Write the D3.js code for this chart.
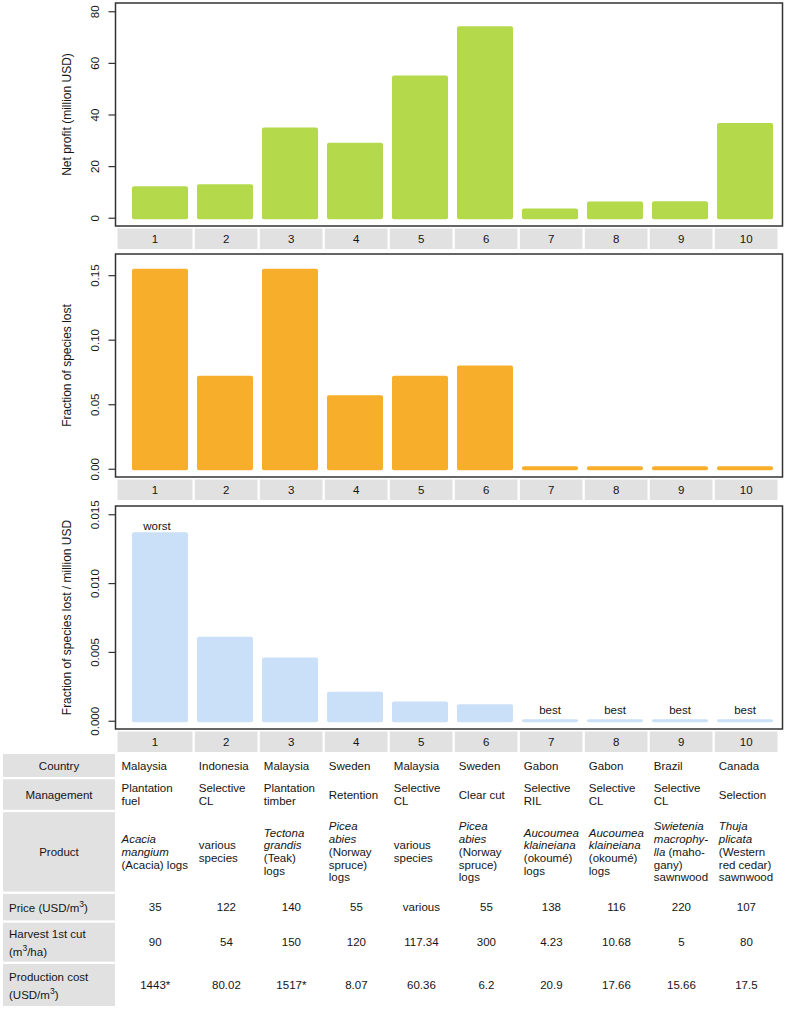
<!DOCTYPE html>
<html>
<head>
<meta charset="utf-8">
<script src="https://cdn.jsdelivr.net/npm/d3@7"></script>
<style>
  body { margin: 0; background: #fff; }
  text { font-family: "Liberation Sans", Arial, Helvetica, sans-serif; fill: #151515; }
</style>
</head>
<body>
<div id="chart"></div>
<script>

// Data.
const caseIds = [1, 2, 3, 4, 5, 6, 7, 8, 9, 10];
const netProfit = [12.2, 13.0, 35.0, 29.1, 55.1, 74.2, 3.6, 6.3, 6.4, 36.7];
const speciesLost = [0.155, 0.072, 0.155, 0.057, 0.072, 0.080, 0.002, 0.002, 0.002, 0.002];
const lostPerProfit = [0.0137, 0.0061, 0.0046, 0.0021, 0.0014, 0.0012, 0.0001, 0.0001, 0.0001, 0.0001];
const rankLabels = ["worst", "", "", "", "", "", "best", "best", "best", "best"];

const countries = ["Malaysia", "Indonesia", "Malaysia", "Sweden", "Malaysia", "Sweden", "Gabon", "Gabon", "Brazil", "Canada"];
const management = [["Plantation", "fuel"], ["Selective", "CL"], ["Plantation", "timber"], ["Retention"], ["Selective", "CL"],
                    ["Clear cut"], ["Selective", "RIL"], ["Selective", "CL"], ["Selective", "CL"], ["Selection"]];
// *...* marks italic text
const products = [
  ["*Acacia*", "*mangium*", "(Acacia) logs"],
  ["various", "species"],
  ["*Tectona*", "*grandis*", "(Teak)", "logs"],
  ["*Picea*", "*abies*", "(Norway", "spruce)", "logs"],
  ["various", "species"],
  ["*Picea*", "*abies*", "(Norway", "spruce)", "logs"],
  ["*Aucoumea*", "*klaineiana*", "(okoumé)", "logs"],
  ["*Aucoumea*", "*klaineiana*", "(okoumé)", "logs"],
  ["*Swietenia*", "*macrophy-*", "*lla* (maho-", "gany)", "sawnwood"],
  ["*Thuja*", "*plicata*", "(Western", "red cedar)", "sawnwood"]
];
const prices = ["35", "122", "140", "55", "various", "55", "138", "116", "220", "107"];
const harvest = ["90", "54", "150", "120", "117.34", "300", "4.23", "10.68", "5", "80"];
const prodCost = ["1443*", "80.02", "1517*", "8.07", "60.36", "6.2", "20.9", "17.66", "15.66", "17.5"];

// ^3 marks a superscript 3
const rowHeaders = [["Country"], ["Management"], ["Product"], ["Price (USD/m^3)"], ["Harvest 1st cut", "(m^3/ha)"], ["Production cost", "(USD/m^3)"]];

// Layout.
const WIDTH = 787, HEIGHT = 1010;
const BOX = {left: 115.5, right: 782.5, height: 223};
const PANEL_TOPS = [3, 254, 506];
const GREY = "#e1e1e1";
const FONT = 11.5;

const svg = d3.select("#chart").append("svg")
    .attr("width", WIDTH)
    .attr("height", HEIGHT);

const x = d3.scaleBand()
    .domain(caseIds)
    .range([127.5, 777.5])
    .paddingInner(0.138)
    .paddingOuter(0.069);

const halfGap = (x.step() - x.bandwidth()) / 2;
function cellLeft(i) { return i === 0 ? 117.5 : x(caseIds[i]) - halfGap + 2.3; }
function cellRight(i) { return x(caseIds[i]) + x.bandwidth() + halfGap; }

const panels = [
  {values: speciesLost, ylim: [0, 0.16], ticks: [0, 0.05, 0.1, 0.15], fmt: d3.format(".2f"), color: "#f7ae2b", title: "Fraction of species lost"},
  {values: lostPerProfit, ylim: [0, 0.015], ticks: [0, 0.005, 0.01, 0.015], fmt: d3.format(".3f"), color: "#cadff8", title: "Fraction of species lost / million USD", labels: rankLabels}
];
panels.unshift({values: netProfit, ylim: [0, 80], ticks: [0, 20, 40, 60, 80], fmt: d3.format("d"), color: "#b4da4b", title: "Net profit (million USD)"});

panels.forEach(function(p, k) {
  const top = PANEL_TOPS[k];
  const bottom = top + BOX.height;
  const span = p.ylim[1] - p.ylim[0];
  const y = d3.scaleLinear()
      .domain([p.ylim[0] - 0.04 * span, p.ylim[1] + 0.04 * span])
      .range([bottom, top]);

  const g = svg.append("g");

  g.selectAll("rect.bar")
    .data(p.values)
    .enter()
    .append("rect")
    .attr("class", "bar")
    .attr("x", function(d, i) { return x(caseIds[i]); })
    .attr("y", function(d) { return y(d); })
    .attr("width", x.bandwidth())
    .attr("height", function(d) { return y(0) - y(d) + 1.5; })
    .attr("rx", 2)
    .attr("fill", p.color);

  if (p.labels) {
    g.selectAll("text.rank")
      .data(p.values)
      .enter()
      .append("text")
      .attr("class", "rank")
      .attr("x", function(d, i) { return x(caseIds[i]) + x.bandwidth() / 2 - (i === 0 ? 3 : 0); })
      .attr("y", function(d, i) { return y(d) - (i === 0 ? 2 : 5); })
      .attr("text-anchor", "middle")
      .attr("font-size", FONT)
      .text(function(d, i) { return p.labels[i]; });
  }

  // box
  g.append("rect")
    .attr("x", BOX.left)
    .attr("y", top)
    .attr("width", BOX.right - BOX.left)
    .attr("height", BOX.height)
    .attr("fill", "none")
    .attr("stroke", "#333")
    .attr("stroke-width", 1.5);

  const axis = g.append("g")
    .attr("transform", "translate(" + BOX.left + ",0)")
    .call(d3.axisLeft(y).tickValues(p.ticks).tickFormat(p.fmt).tickSize(7));
  axis.select(".domain").remove();
  axis.selectAll(".tick line").attr("stroke", "#333").attr("stroke-width", 1.2);
  axis.selectAll(".tick text")
    .attr("transform", "rotate(-90)")
    .attr("x", 0)
    .attr("y", -16.5)
    .attr("dy", 0)
    .attr("text-anchor", "middle")
    .attr("font-size", FONT)
    .attr("fill", "#151515")
    .attr("font-family", "Liberation Sans, Arial, sans-serif");

  g.append("text")
    .attr("transform", "translate(67," + (top + BOX.height / 2) + ") rotate(-90)")
    .attr("text-anchor", "middle")
    .attr("dominant-baseline", "central")
    .attr("font-size", 12)
    .text(p.title);

  // number row below the box
  const rowTop = bottom + 2.5, rowH = 20.5;
  const cells = g.selectAll("g.num")
    .data(caseIds)
    .enter()
    .append("g")
    .attr("class", "num");
  cells.append("rect")
    .attr("x", function(d, i) { return cellLeft(i); })
    .attr("y", rowTop)
    .attr("width", function(d, i) { return cellRight(i) - cellLeft(i); })
    .attr("height", rowH)
    .attr("fill", GREY);
  cells.append("text")
    .attr("x", function(d, i) { return (cellLeft(i) + cellRight(i)) / 2; })
    .attr("y", rowTop + rowH / 2)
    .attr("text-anchor", "middle")
    .attr("dominant-baseline", "central")
    .attr("font-size", FONT)
    .text(function(d) { return d; });
});

// Table.
const ROW_HEIGHTS = [23, 30.5, 79.5, 26.5, 39, 42];
const ROW_GAP = 2.3;
const TABLE_TOP = 754;
const LINE = 12.8;

const rowTops = [];
ROW_HEIGHTS.reduce(function(acc, h) { rowTops.push(acc); return acc + h + ROW_GAP; }, TABLE_TOP);

const table = svg.append("g");

// adds lines of text, with *italic* and ^3 superscript markup
function addLines(sel, lines, xPos, yMid, anchor, lineH) {
  const t = sel.append("text")
    .attr("text-anchor", anchor)
    .attr("font-size", FONT);
  const y0 = yMid - (lines.length - 1) * lineH / 2;
  lines.forEach(function(line, j) {
    const parts = line.split(/(\*[^*]*\*|\^3)/).filter(function(s) { return s.length > 0; });
    parts.forEach(function(s, m) {
      const ts = t.append("tspan");
      if (m === 0) ts.attr("x", xPos).attr("y", y0 + j * lineH + 4);
      if (s[0] === "*" && s.length > 1 && s[s.length - 1] === "*") {
        ts.attr("font-style", "italic").text(s.slice(1, -1));
      } else if (s === "^3") {
        ts.attr("font-size", 8.5).attr("dy", -5).text("3");
        ts.attr("data-sup", 1);
      } else {
        const prev = parts[m - 1];
        if (prev === "^3") ts.attr("dy", 5);
        ts.text(s);
      }
    });
  });
  return t;
}

rowHeaders.forEach(function(lines, r) {
  const top = rowTops[r], h = ROW_HEIGHTS[r];
  table.append("rect")
    .attr("x", 3).attr("y", top)
    .attr("width", 112).attr("height", h)
    .attr("fill", GREY);
  const centered = r < 3;
  addLines(table, lines, centered ? 59 : 9, top + h / 2 + (centered ? 0 : 1), centered ? "middle" : "start", r < 3 ? LINE : 18);
});

const rows = [
  {data: countries.map(function(c) { return [c]; }), align: "start"},
  {data: management, align: "start"},
  {data: products, align: "start"},
  {data: prices.map(function(c) { return [c]; }), align: "middle"},
  {data: harvest.map(function(c) { return [c]; }), align: "middle"},
  {data: prodCost.map(function(c) { return [c]; }), align: "middle"}
];

rows.forEach(function(row, r) {
  const top = rowTops[r], h = ROW_HEIGHTS[r];
  row.data.forEach(function(lines, i) {
    const l = cellLeft(i) + 0.5, rgt = cellRight(i);
    const xPos = row.align === "start" ? l + 3.5 : (l + rgt) / 2;
    addLines(table, lines, xPos, top + h / 2, row.align, LINE);
  });
});

</script>
</body>
</html>
